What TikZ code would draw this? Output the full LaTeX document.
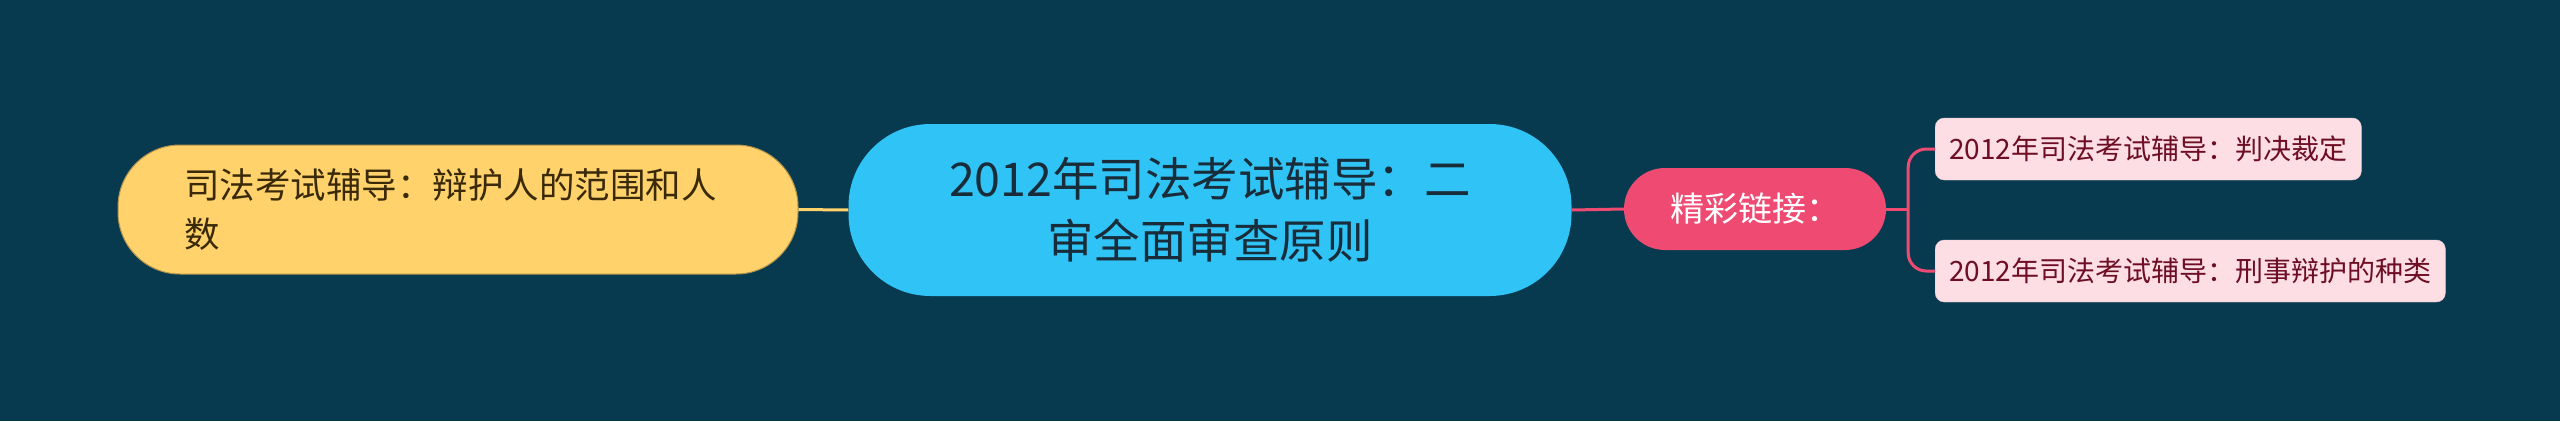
\documentclass[tikz,border=0pt]{standalone}
\usepackage{fontspec}
\setmainfont{Noto Sans CJK SC}
\usepackage{tikz}
\usetikzlibrary{calc}
\definecolor{bgcol}{RGB}{7,58,79}
\definecolor{rootcol}{RGB}{47,196,245}
\definecolor{roottext}{RGB}{24,44,58}
\definecolor{yelcol}{RGB}{255,210,108}
\definecolor{yeltext}{RGB}{58,42,10}
\definecolor{pinkcol}{RGB}{239,74,114}
\definecolor{leafcol}{RGB}{252,222,228}
\definecolor{leaftext}{RGB}{110,14,36}
\tikzset{>=latex}
\tikzset{
rootnode/.style={fill=rootcol, text=roottext, rounded corners=82pt, minimum width=723pt, minimum height=172pt, align=center, font=\fontsize{46.5}{62}\selectfont},
topicnode/.style={fill=yelcol, draw=yelcol!70!black, line width=1pt, text=yeltext, rounded corners=62pt, minimum width=680pt, minimum height=129pt, align=left, text width=548pt, font=\fontsize{35.5}{49}\selectfont},
linknode/.style={fill=pinkcol, text=white, rounded corners=41pt, minimum width=262pt, minimum height=82pt, font=\fontsize{34}{40}\selectfont},
leafnode/.style={fill=leafcol, draw=leafcol!80!gray, text=leaftext, rounded corners=9pt, minimum height=62pt, inner xsep=14pt, anchor=west, font=\fontsize{28}{34}\selectfont},
conn/.style={line width=3pt}
}
\begin{document}
\begin{tikzpicture}[x=1pt,y=-1pt]
\fill[bgcol] (0,0) rectangle (2560,421);
\useasboundingbox (0,0) rectangle (2560,421);
% main nodes
\node[topicnode] (topic) at (458,209.5) {司法考试辅导：辩护人的范围和人\\数};
\node[rootnode] (root) at (1210,210) {2012年司法考试辅导：二\\审全面审查原则};
\node[linknode] (link) at (1755,209) {精彩链接：};
\node[leafnode] (leafa) at (1935,149) {2012年司法考试辅导：判决裁定};
\node[leafnode] (leafb) at (1935,271) {2012年司法考试辅导：刑事辩护的种类};
% connectors
\coordinate (fork) at ($(link.east)+(22,0)$);
\draw[conn, yelcol] (topic.east) -- (root.west);
\draw[conn, pinkcol] (root.east) -- (link.west);
\draw[conn, pinkcol] (link.east) -- (fork);
\draw[conn, pinkcol, rounded corners=18pt] (fork) |- (leafa.west);
\draw[conn, pinkcol, rounded corners=18pt] (fork) |- (leafb.west);
\end{tikzpicture}
\end{document}
